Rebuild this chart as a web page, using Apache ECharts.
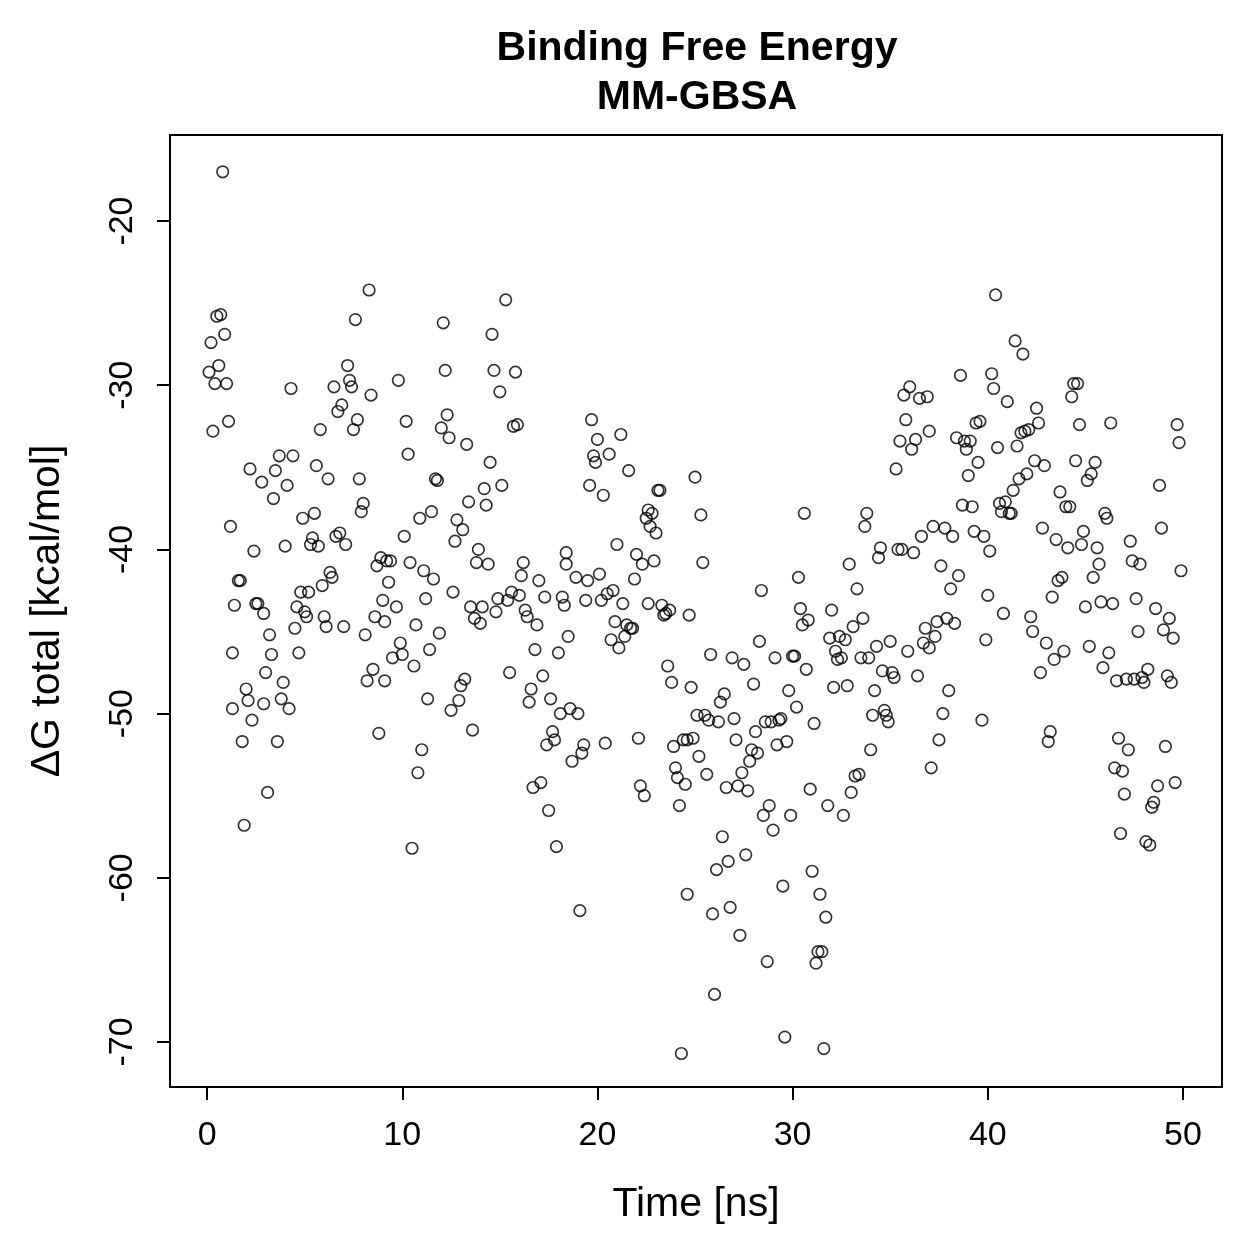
<!DOCTYPE html>
<html>
<head>
<meta charset="utf-8">
<script src="https://cdn.jsdelivr.net/npm/echarts@6/dist/echarts.min.js"></script>
<style>
  html, body { margin: 0; padding: 0; background: #fff; }
  #main { width: 1259px; height: 1259px; }
</style>
</head>
<body>
<div id="main"></div>
<script>
// time [ns], dG total [kcal/mol]
const samples = [
  [0.1,-29.2],[0.2,-27.4],[0.3,-32.8],[0.4,-29.9],[0.5,-25.8],[0.6,-28.8],[0.7,-25.7],[0.8,-17.0],[0.9,-26.9],[1.0,-29.9],
  [1.1,-32.2],[1.2,-38.6],[1.3,-46.3],[1.3,-49.7],[1.4,-43.4],[1.6,-41.9],[1.7,-41.9],[1.8,-51.7],[1.9,-56.8],[2.0,-48.5],
  [2.1,-49.2],[2.2,-35.1],[2.3,-50.4],[2.4,-40.1],[2.5,-43.3],[2.6,-43.3],[2.8,-35.9],[2.9,-43.9],[2.9,-49.4],[3.0,-47.5],
  [3.1,-54.8],[3.2,-45.2],[3.3,-46.4],[3.4,-36.9],[3.5,-35.2],[3.6,-51.7],[3.7,-34.3],[3.8,-49.1],[3.9,-48.1],[4.0,-39.8],
  [4.1,-36.1],[4.2,-49.7],[4.3,-30.2],[4.4,-34.3],[4.5,-44.8],[4.6,-43.5],[4.7,-46.3],[4.8,-42.6],[4.9,-38.1],[5.0,-43.8],
  [5.1,-44.1],[5.2,-42.6],[5.3,-39.7],[5.4,-39.3],[5.5,-37.8],[5.6,-34.9],[5.7,-39.8],[5.8,-32.7],[5.9,-42.2],[6.0,-44.1],
  [6.1,-44.7],[6.2,-35.7],[6.3,-41.4],[6.4,-41.7],[6.5,-30.1],[6.6,-39.2],[6.7,-31.6],[6.8,-39.0],[6.9,-31.2],[7.0,-44.7],
  [7.1,-39.7],[7.2,-28.8],[7.3,-29.7],[7.4,-30.1],[7.5,-32.7],[7.6,-26.0],[7.7,-32.1],[7.8,-35.7],[7.9,-37.7],[8.0,-37.2],
  [8.1,-45.2],[8.2,-48.0],[8.3,-24.2],[8.4,-30.6],[8.5,-47.3],[8.6,-44.1],[8.7,-41.0],[8.8,-51.2],[8.9,-40.5],[9.0,-43.1],
  [9.1,-44.4],[9.1,-48.0],[9.2,-40.7],[9.3,-42.0],[9.4,-40.7],[9.5,-46.6],[9.7,-43.5],[9.8,-29.7],[9.9,-45.7],[10.0,-46.4],
  [10.1,-39.2],[10.2,-32.2],[10.3,-34.2],[10.4,-40.8],[10.5,-58.2],[10.6,-47.1],[10.7,-44.6],[10.8,-53.6],[10.9,-38.1],[11.0,-52.2],
  [11.1,-41.3],[11.2,-43.0],[11.3,-49.1],[11.4,-46.1],[11.5,-37.7],[11.6,-41.8],[11.7,-35.7],[11.8,-35.8],[11.9,-45.1],[12.0,-32.6],
  [12.1,-26.2],[12.2,-29.1],[12.3,-31.8],[12.4,-33.2],[12.5,-49.8],[12.6,-42.6],[12.7,-39.5],[12.8,-38.2],[12.9,-49.2],[13.0,-48.3],
  [13.1,-38.8],[13.2,-47.9],[13.3,-33.6],[13.4,-37.1],[13.5,-43.5],[13.6,-51.0],[13.7,-44.2],[13.8,-40.8],[13.9,-40.0],[14.0,-44.5],
  [14.1,-43.5],[14.2,-36.3],[14.3,-37.3],[14.4,-40.9],[14.5,-34.7],[14.6,-26.9],[14.7,-29.1],[14.8,-43.8],[14.9,-43.0],[15.0,-30.4],
  [15.1,-36.1],[15.3,-24.8],[15.4,-43.1],[15.5,-47.5],[15.6,-42.6],[15.7,-32.5],[15.8,-29.2],[15.9,-32.4],[16.0,-42.8],[16.1,-41.6],
  [16.2,-40.8],[16.3,-43.7],[16.4,-44.1],[16.5,-49.3],[16.6,-48.5],[16.7,-54.5],[16.8,-46.1],[16.9,-44.6],[17.0,-41.9],[17.1,-54.2],
  [17.2,-47.7],[17.3,-42.9],[17.4,-51.9],[17.5,-55.9],[17.6,-49.1],[17.7,-51.1],[17.8,-51.6],[17.9,-58.1],[18.0,-46.3],[18.1,-50.0],
  [18.2,-42.9],[18.3,-43.4],[18.4,-40.9],[18.4,-40.2],[18.5,-45.3],[18.6,-49.7],[18.7,-52.9],[18.9,-41.7],[19.0,-50.0],[19.1,-62.0],
  [19.2,-52.4],[19.3,-51.9],[19.4,-43.1],[19.5,-41.9],[19.6,-36.1],[19.7,-32.1],[19.8,-34.3],[19.9,-34.7],[20.0,-33.3],[20.1,-41.5],
  [20.2,-43.1],[20.3,-36.7],[20.4,-51.8],[20.5,-42.7],[20.6,-34.2],[20.7,-45.5],[20.8,-42.5],[20.9,-44.4],[21.0,-39.7],[21.1,-46.0],
  [21.2,-33.0],[21.3,-43.3],[21.4,-45.3],[21.5,-44.6],[21.6,-35.2],[21.7,-44.8],[21.8,-44.8],[21.9,-41.8],[22.0,-40.3],[22.1,-51.5],
  [22.2,-54.4],[22.3,-40.9],[22.4,-55.0],[22.5,-38.1],[22.6,-43.3],[22.6,-37.6],[22.7,-38.6],[22.8,-37.8],[22.9,-40.7],[23.0,-39.0],
  [23.1,-36.4],[23.2,-36.4],[23.3,-43.4],[23.4,-44.0],[23.5,-43.9],[23.6,-47.1],[23.7,-43.7],[23.8,-48.1],[23.9,-52.0],[24.0,-53.3],
  [24.1,-53.9],[24.2,-55.6],[24.3,-70.7],[24.4,-51.6],[24.5,-54.3],[24.6,-51.6],[24.6,-61.0],[24.7,-44.0],[24.8,-48.4],[24.9,-51.5],
  [25.0,-35.6],[25.1,-50.1],[25.2,-52.6],[25.3,-37.9],[25.4,-40.8],[25.5,-50.1],[25.6,-53.7],[25.7,-50.4],[25.8,-46.4],[25.9,-62.2],
  [26.0,-67.1],[26.1,-59.5],[26.2,-50.5],[26.3,-49.3],[26.4,-57.5],[26.5,-48.8],[26.6,-54.5],[26.7,-59.0],[26.8,-61.8],[26.9,-46.6],
  [27.0,-50.3],[27.1,-51.6],[27.2,-54.4],[27.3,-63.5],[27.4,-53.6],[27.5,-47.0],[27.6,-58.6],[27.7,-54.7],[27.8,-52.9],[27.9,-52.2],
  [28.0,-48.2],[28.1,-51.1],[28.2,-52.4],[28.3,-45.6],[28.4,-42.5],[28.5,-56.2],[28.6,-50.5],[28.7,-65.1],[28.8,-55.6],[28.9,-50.5],
  [29.0,-57.1],[29.1,-46.6],[29.2,-51.9],[29.3,-50.4],[29.4,-50.3],[29.5,-60.5],[29.6,-69.7],[29.7,-51.7],[29.8,-48.6],[29.9,-56.2],
  [30.0,-46.5],[30.1,-46.5],[30.2,-49.6],[30.3,-41.7],[30.4,-43.6],[30.5,-44.6],[30.6,-37.8],[30.7,-47.3],[30.8,-44.3],[30.9,-54.6],
  [31.0,-59.6],[31.1,-50.6],[31.2,-65.2],[31.3,-64.5],[31.4,-61.0],[31.5,-64.5],[31.6,-70.4],[31.7,-62.4],[31.8,-55.6],[31.9,-45.4],
  [32.0,-43.7],[32.1,-48.4],[32.2,-46.2],[32.3,-46.7],[32.4,-45.3],[32.5,-46.6],[32.6,-56.2],[32.7,-45.5],[32.8,-48.3],[32.9,-40.9],
  [33.0,-54.8],[33.1,-44.7],[33.2,-53.8],[33.3,-42.4],[33.4,-53.7],[33.5,-46.6],[33.6,-44.2],[33.7,-38.6],[33.8,-37.8],[33.9,-46.6],
  [34.0,-52.2],[34.1,-50.1],[34.2,-48.6],[34.3,-45.9],[34.4,-40.5],[34.5,-39.9],[34.6,-47.4],[34.7,-49.8],[34.8,-50.1],[34.9,-50.5],
  [35.0,-45.6],[35.1,-47.5],[35.2,-47.8],[35.3,-35.1],[35.4,-40.0],[35.5,-33.4],[35.6,-40.0],[35.7,-30.6],[35.8,-32.1],[35.9,-46.2],
  [36.0,-30.1],[36.1,-33.9],[36.2,-40.2],[36.3,-33.3],[36.4,-47.7],[36.5,-30.8],[36.6,-39.2],[36.7,-45.7],[36.8,-44.8],[36.9,-30.7],
  [37.0,-46.0],[37.0,-32.8],[37.1,-53.3],[37.2,-38.6],[37.3,-45.3],[37.4,-44.4],[37.5,-51.6],[37.6,-41.0],[37.7,-50.0],[37.8,-38.7],
  [37.9,-44.2],[38.0,-48.6],[38.1,-42.4],[38.2,-39.2],[38.3,-44.5],[38.4,-33.2],[38.5,-41.6],[38.6,-29.4],[38.7,-37.3],[38.8,-33.4],
  [38.9,-33.9],[39.0,-35.5],[39.1,-33.4],[39.2,-37.4],[39.3,-38.9],[39.4,-32.3],[39.5,-34.7],[39.6,-32.2],[39.7,-50.4],[39.8,-39.2],
  [39.9,-45.5],[40.0,-42.8],[40.1,-40.1],[40.2,-29.3],[40.3,-30.2],[40.4,-24.5],[40.5,-33.8],[40.6,-37.2],[40.7,-37.7],[40.8,-43.9],
  [40.9,-37.1],[41.0,-31.0],[41.1,-37.8],[41.2,-37.8],[41.3,-36.4],[41.4,-27.3],[41.5,-33.7],[41.6,-35.7],[41.7,-32.9],[41.8,-28.1],
  [41.9,-32.8],[42.0,-35.4],[42.1,-32.7],[42.2,-44.1],[42.3,-45.0],[42.4,-34.6],[42.5,-31.4],[42.6,-32.3],[42.7,-47.5],[42.8,-38.7],
  [42.9,-34.9],[43.0,-45.7],[43.1,-51.7],[43.2,-51.1],[43.3,-42.9],[43.4,-46.7],[43.5,-39.4],[43.6,-41.9],[43.7,-36.5],[43.8,-41.7],
  [43.9,-46.2],[44.0,-37.4],[44.1,-39.9],[44.2,-37.4],[44.3,-30.7],[44.4,-29.9],[44.5,-34.6],[44.6,-29.9],[44.7,-32.4],[44.8,-39.7],
  [44.9,-38.9],[45.0,-43.5],[45.1,-35.8],[45.2,-45.9],[45.3,-35.4],[45.4,-41.7],[45.5,-34.7],[45.6,-39.9],[45.7,-40.9],[45.8,-43.2],
  [45.9,-47.2],[46.0,-37.8],[46.1,-38.1],[46.2,-46.3],[46.3,-32.3],[46.4,-43.3],[46.5,-53.3],[46.6,-48.0],[46.7,-51.5],[46.8,-57.3],
  [46.9,-53.5],[47.0,-54.9],[47.1,-47.9],[47.2,-52.2],[47.3,-39.5],[47.4,-40.7],[47.5,-47.9],[47.6,-43.0],[47.7,-45.0],[47.8,-40.9],
  [47.9,-47.8],[48.0,-48.1],[48.1,-57.8],[48.2,-47.3],[48.3,-58.0],[48.4,-55.7],[48.5,-55.4],[48.6,-43.6],[48.7,-54.4],[48.8,-36.1],
  [48.9,-38.7],[49.0,-44.9],[49.1,-52.0],[49.2,-47.7],[49.3,-44.2],[49.4,-48.1],[49.5,-45.4],[49.6,-54.2],[49.7,-32.4],[49.8,-33.5],
  [49.9,-41.3]
]

const xTicks = [0, 10, 20, 30, 40, 50]
const yTicks = [-70, -60, -50, -40, -30, -20]

const font = "'Liberation Sans', Arial, Helvetica, sans-serif"

const chart = echarts.init(document.getElementById('main'), null, { renderer: 'canvas' })

const option = {
  backgroundColor: '#fff',
  animation: false,
  title: {
    text: 'Binding Free Energy\nMM-GBSA',
    left: 692,
    top: 19,
    textAlign: 'center',
    textStyle: {
      fontFamily: font,
      fontSize: 41,
      fontWeight: 'bold',
      color: '#000',
      lineHeight: 49,
    },
  },
  grid: {
    left: 170,
    right: 37,
    top: 135,
    bottom: 172,
    show: true,
    borderColor: '#000',
    borderWidth: 2,
    backgroundColor: 'transparent',
    containLabel: false,
  },
  xAxis: {
    type: 'value',
    min: -1.9,
    max: 52,
    name: 'Time [ns]',
    nameLocation: 'middle',
    nameGap: 97,
    nameTextStyle: { fontFamily: font, fontSize: 41, color: '#000' },
    axisLine: { show: false, onZero: false },
    splitLine: { show: false },
    axisTick: {
      show: true,
      inside: false,
      length: 13,
      customValues: xTicks,
      lineStyle: { color: '#000', width: 2 },
    },
    axisLabel: {
      customValues: xTicks,
      margin: 32,
      fontFamily: font,
      fontSize: 34,
      color: '#000',
    },
  },
  yAxis: {
    type: 'value',
    min: -72.74,
    max: -14.76,
    name: 'ΔG total [kcal/mol]',
    nameLocation: 'middle',
    nameRotate: 90,
    nameGap: 102,
    nameTextStyle: { fontFamily: font, fontSize: 41, color: '#000' },
    axisLine: { show: false, onZero: false },
    splitLine: { show: false },
    axisTick: {
      show: true,
      inside: false,
      length: 13,
      customValues: yTicks,
      lineStyle: { color: '#000', width: 2 },
    },
    axisLabel: {
      customValues: yTicks,
      rotate: 90,
      margin: 30,
      fontFamily: font,
      fontSize: 34,
      color: '#000',
    },
  },
  series: [
    {
      type: 'scatter',
      data: samples,
      symbol: 'circle',
      symbolSize: 11.5,
      itemStyle: {
        color: 'transparent',
        borderColor: '#000',
        borderWidth: 1.7,
      },
      emphasis: { disabled: true },
    },
  ],
}

chart.setOption(option)
</script>
</body>
</html>
